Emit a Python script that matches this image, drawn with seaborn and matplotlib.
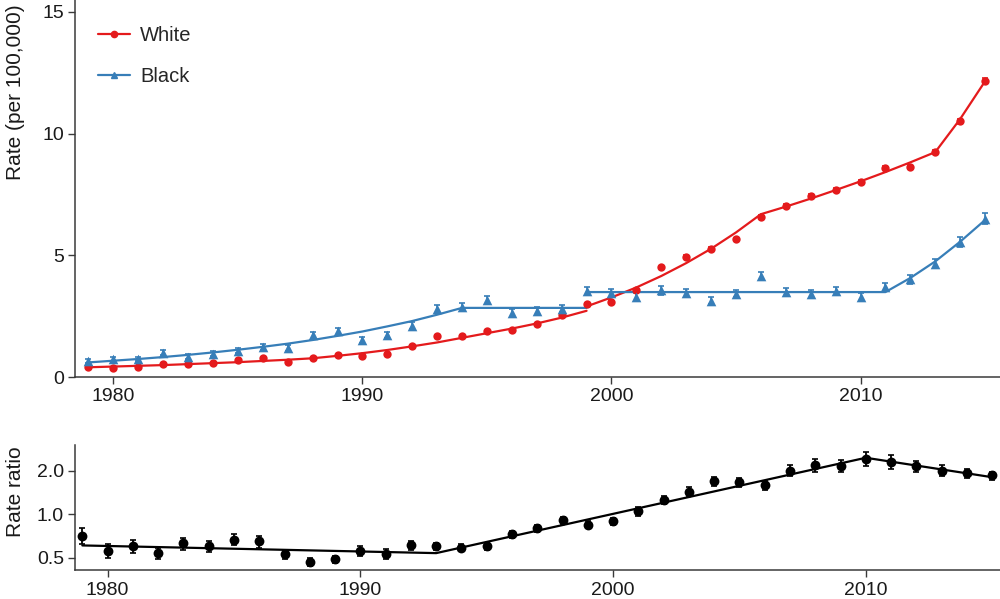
import matplotlib
matplotlib.use("Agg")
import matplotlib.pyplot as plt
from matplotlib.lines import Line2D
import seaborn as sns

# Data
years = list(range(1979, 2016))

white_rate = [0.43, 0.39, 0.43, 0.52, 0.52, 0.56, 0.70, 0.80, 0.63, 0.80, 0.90, 0.85,
              0.93, 1.27, 1.69, 1.70, 1.88, 1.93, 2.18, 2.55,
              3.00, 3.10, 3.56, 4.51,
              4.95, 5.28, 5.66, 6.59, 7.04, 7.44, 7.69, 8.00,
              8.59, 8.63, 9.24, 10.51, 12.17]
white_err = [0.02, 0.02, 0.02, 0.02, 0.02, 0.02, 0.03, 0.03, 0.03, 0.03, 0.03, 0.03,
             0.03, 0.04, 0.04, 0.04, 0.04, 0.04, 0.04, 0.05,
             0.05, 0.05, 0.06, 0.06,
             0.07, 0.07, 0.07, 0.08, 0.08, 0.08, 0.08, 0.09,
             0.09, 0.09, 0.09, 0.10, 0.11]

black_rate = [0.64, 0.73, 0.74, 0.99, 0.84, 0.95, 1.08, 1.23, 1.19, 1.71, 1.88, 1.52,
              1.73, 2.10, 2.78, 2.88, 3.15, 2.63, 2.71, 2.81,
              3.53, 3.45, 3.30, 3.56,
              3.45, 3.14, 3.43, 4.15, 3.49, 3.40, 3.52, 3.30,
              3.70, 4.02, 4.66, 5.55, 6.51]
black_err = [0.08, 0.09, 0.09, 0.10, 0.09, 0.10, 0.10, 0.11, 0.11, 0.13, 0.14, 0.12,
             0.13, 0.14, 0.16, 0.16, 0.17, 0.15, 0.15, 0.15,
             0.17, 0.17, 0.16, 0.17,
             0.16, 0.15, 0.16, 0.18, 0.16, 0.16, 0.17, 0.16,
             0.17, 0.18, 0.19, 0.21, 0.24]

# joinpoint fits, ICD-9 era and ICD-10 era
fit_years_pre = list(range(1979, 2000))
fit_years_post = list(range(1999, 2016))
white_fit_pre = [0.40, 0.43, 0.46, 0.49, 0.53, 0.57, 0.61, 0.66, 0.71, 0.77, 0.87,
                 0.98, 1.11, 1.26, 1.42, 1.61, 1.80, 1.99, 2.20, 2.44, 2.72]
white_fit_post = [2.90, 3.27, 3.68, 4.15, 4.68, 5.27, 5.94, 6.69, 7.00, 7.33, 7.68,
                  8.04, 8.42, 8.82, 9.24, 10.60, 12.15]
black_fit_pre = [0.60, 0.67, 0.74, 0.82, 0.91, 1.01, 1.12, 1.24, 1.37, 1.52, 1.69,
                 1.87, 2.08, 2.30, 2.56, 2.84, 2.84, 2.84, 2.84, 2.84, 2.84]
black_fit_post = [3.49, 3.49, 3.49, 3.49, 3.49, 3.49, 3.49, 3.49, 3.49, 3.49, 3.49,
                  3.49, 3.49, 4.07, 4.75, 5.56, 6.45]

ratio = [0.71, 0.56, 0.60, 0.54, 0.63, 0.60, 0.67, 0.65, 0.53, 0.47, 0.49, 0.56,
         0.535, 0.61, 0.60, 0.59, 0.60, 0.73, 0.80, 0.91,
         0.85, 0.90, 1.05, 1.25,
         1.43, 1.69, 1.66, 1.58, 2.00, 2.18, 2.16, 2.42,
         2.30, 2.14, 2.00, 1.91, 1.85]
ratio_err = [0.09, 0.06, 0.06, 0.05, 0.06, 0.05, 0.06, 0.06, 0.04, 0.03, 0.03, 0.04,
             0.04, 0.04, 0.03, 0.03, 0.03, 0.04, 0.05, 0.05,
             0.05, 0.05, 0.07, 0.08,
             0.10, 0.13, 0.12, 0.12, 0.17, 0.22, 0.22, 0.28,
             0.24, 0.20, 0.17, 0.14, 0.12]
ratio_fit_years = [1979, 1993, 2010, 2015]
ratio_fit = [0.61, 0.54, 2.45, 1.80]

top_yticks = [0, 5, 10, 15]
bottom_yticks = [0.5, 1.0, 2.0]
xticks = [1980, 1990, 2000, 2010]

sns.set_theme(style="ticks")
plt.rcParams["font.family"] = ["Liberation Sans", "DejaVu Sans"]
plt.rcParams["axes.edgecolor"] = "#3a3a3a"
plt.rcParams["axes.linewidth"] = 1.1
plt.rcParams["xtick.color"] = "#3a3a3a"
plt.rcParams["ytick.color"] = "#3a3a3a"
plt.rcParams["xtick.labelcolor"] = "#1a1a1a"
plt.rcParams["ytick.labelcolor"] = "#1a1a1a"

pal = sns.color_palette("Set1")
RED, BLUE = pal[0], pal[1]

fig = plt.figure(figsize=(10, 5.99), dpi=100)
ax1 = fig.add_axes([0.075, 0.3706, 0.925, 0.6294])
ax2 = fig.add_axes([0.075, 0.0476, 0.925, 0.2095])

# Top panel: rates
sns.lineplot(x=fit_years_pre, y=white_fit_pre, ax=ax1, color=RED, lw=1.6)
sns.lineplot(x=fit_years_post, y=white_fit_post, ax=ax1, color=RED, lw=1.6)
sns.lineplot(x=fit_years_pre, y=black_fit_pre, ax=ax1, color=BLUE, lw=1.6)
sns.lineplot(x=fit_years_post, y=black_fit_post, ax=ax1, color=BLUE, lw=1.6)

ax1.errorbar(years, white_rate, yerr=white_err, fmt="none", ecolor=RED,
             elinewidth=1.2, capsize=2, capthick=1.2)
ax1.errorbar(years, black_rate, yerr=black_err, fmt="none", ecolor=BLUE,
             elinewidth=1.2, capsize=2, capthick=1.2)
sns.scatterplot(x=years, y=white_rate, ax=ax1, color=RED, marker="o", s=36,
                edgecolor=RED, linewidth=0, zorder=3)
sns.scatterplot(x=years, y=black_rate, ax=ax1, color=BLUE, marker="^", s=48,
                edgecolor=BLUE, linewidth=0, zorder=3)

ax1.set_xlim(1978.46, 2015.6)
ax1.set_ylim(0, 15.49)
ax1.set_xticks(xticks)
ax1.set_yticks(top_yticks)
sns.despine(ax=ax1)

handles = [
    Line2D([], [], color=RED, lw=1.6, marker="o", markersize=4.5),
    Line2D([], [], color=BLUE, lw=1.6, marker="^", markersize=5),
]
ax1.legend(handles, ["White", "Black"], loc="upper left", frameon=False,
           bbox_to_anchor=(0.098, 1 - 26 / 599), bbox_transform=fig.transFigure,
           borderpad=0, borderaxespad=0, handlelength=1.6, handletextpad=0.5,
           labelspacing=1.1, fontsize=14.5)

# Bottom panel: rate ratio on log scale
sns.lineplot(x=ratio_fit_years, y=ratio_fit, ax=ax2, color="black", lw=1.6)
ax2.errorbar(years, ratio, yerr=ratio_err, fmt="none", ecolor="black",
             elinewidth=1.3, capsize=2, capthick=1.2)
sns.scatterplot(x=years, y=ratio, ax=ax2, color="black", marker="o", s=50,
                edgecolor="black", linewidth=0, zorder=3)
ax2.set_yscale("log")
ax2.set_xlim(1978.71, 2015.31)
ax2.set_ylim(0.41, 3.0)
ax2.set_xticks(xticks)
ax2.set_yticks(bottom_yticks)
ax2.set_yticklabels([f"{v:.1f}" for v in bottom_yticks])
ax2.minorticks_off()
sns.despine(ax=ax2)

for ax in (ax1, ax2):
    ax.tick_params(axis="both", labelsize=14, length=5, width=1.0, pad=3)
    ax.set_xlabel("")
    ax.set_ylabel("")

fig.text(0.016, 1 - 92 / 599, "Rate (per 100,000)", rotation=90, fontsize=15,
         ha="center", va="center", color="#1a1a1a")
fig.text(0.016, 1 - 492 / 599, "Rate ratio", rotation=90, fontsize=15,
         ha="center", va="center", color="#1a1a1a")

fig.savefig("out.png", dpi=100)
